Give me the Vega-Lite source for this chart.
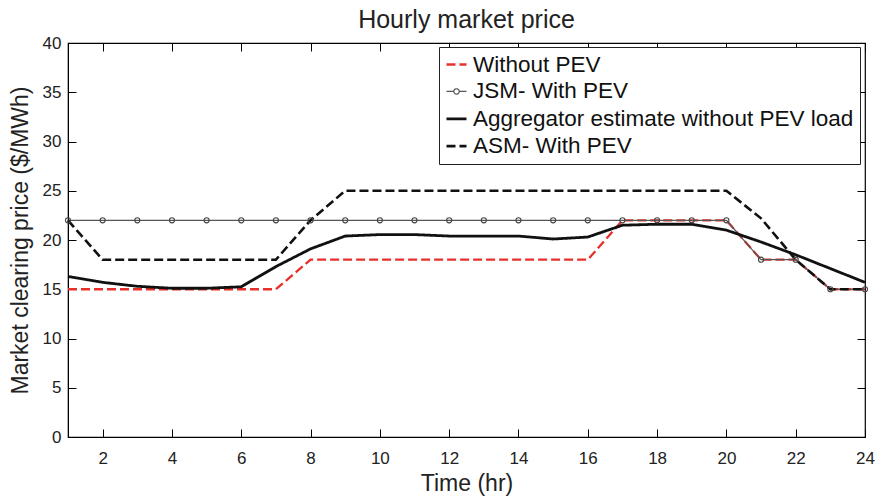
{
  "$schema": "https://vega.github.io/schema/vega-lite/v6.json",
  "width": 797,
  "height": 394,
  "autosize": {"type": "none"},
  "padding": {"left": 68, "top": 43, "right": 13, "bottom": 63},
  "background": "white",
  "config": {
    "font": "Liberation Sans",
    "view": {"stroke": "black", "strokeWidth": 1.2},
    "axis": {"grid": false, "domainColor": "black", "tickColor": "black", "labelColor": "#222", "titleColor": "#222", "labelFont": "Liberation Sans", "titleFont": "Liberation Sans"}
  },
  "title": {"text": "Hourly market price", "fontSize": 25, "fontWeight": "normal", "color": "#222", "offset": 1, "anchor": "middle", "font": "Liberation Sans"},
  "data": {"values": [
    {"hour": 1, "series": "Without PEV", "price": 15},
    {"hour": 2, "series": "Without PEV", "price": 15},
    {"hour": 3, "series": "Without PEV", "price": 15},
    {"hour": 4, "series": "Without PEV", "price": 15},
    {"hour": 5, "series": "Without PEV", "price": 15},
    {"hour": 6, "series": "Without PEV", "price": 15},
    {"hour": 7, "series": "Without PEV", "price": 15},
    {"hour": 8, "series": "Without PEV", "price": 18},
    {"hour": 9, "series": "Without PEV", "price": 18},
    {"hour": 10, "series": "Without PEV", "price": 18},
    {"hour": 11, "series": "Without PEV", "price": 18},
    {"hour": 12, "series": "Without PEV", "price": 18},
    {"hour": 13, "series": "Without PEV", "price": 18},
    {"hour": 14, "series": "Without PEV", "price": 18},
    {"hour": 15, "series": "Without PEV", "price": 18},
    {"hour": 16, "series": "Without PEV", "price": 18},
    {"hour": 17, "series": "Without PEV", "price": 22},
    {"hour": 18, "series": "Without PEV", "price": 22},
    {"hour": 19, "series": "Without PEV", "price": 22},
    {"hour": 20, "series": "Without PEV", "price": 22},
    {"hour": 21, "series": "Without PEV", "price": 18},
    {"hour": 22, "series": "Without PEV", "price": 18},
    {"hour": 23, "series": "Without PEV", "price": 15},
    {"hour": 24, "series": "Without PEV", "price": 15},
    {"hour": 1, "series": "JSM- With PEV", "price": 22},
    {"hour": 2, "series": "JSM- With PEV", "price": 22},
    {"hour": 3, "series": "JSM- With PEV", "price": 22},
    {"hour": 4, "series": "JSM- With PEV", "price": 22},
    {"hour": 5, "series": "JSM- With PEV", "price": 22},
    {"hour": 6, "series": "JSM- With PEV", "price": 22},
    {"hour": 7, "series": "JSM- With PEV", "price": 22},
    {"hour": 8, "series": "JSM- With PEV", "price": 22},
    {"hour": 9, "series": "JSM- With PEV", "price": 22},
    {"hour": 10, "series": "JSM- With PEV", "price": 22},
    {"hour": 11, "series": "JSM- With PEV", "price": 22},
    {"hour": 12, "series": "JSM- With PEV", "price": 22},
    {"hour": 13, "series": "JSM- With PEV", "price": 22},
    {"hour": 14, "series": "JSM- With PEV", "price": 22},
    {"hour": 15, "series": "JSM- With PEV", "price": 22},
    {"hour": 16, "series": "JSM- With PEV", "price": 22},
    {"hour": 17, "series": "JSM- With PEV", "price": 22},
    {"hour": 18, "series": "JSM- With PEV", "price": 22},
    {"hour": 19, "series": "JSM- With PEV", "price": 22},
    {"hour": 20, "series": "JSM- With PEV", "price": 22},
    {"hour": 21, "series": "JSM- With PEV", "price": 18},
    {"hour": 22, "series": "JSM- With PEV", "price": 18},
    {"hour": 23, "series": "JSM- With PEV", "price": 15},
    {"hour": 24, "series": "JSM- With PEV", "price": 15},
    {"hour": 1, "series": "Aggregator estimate without PEV load", "price": 16.3},
    {"hour": 2, "series": "Aggregator estimate without PEV load", "price": 15.7},
    {"hour": 3, "series": "Aggregator estimate without PEV load", "price": 15.3},
    {"hour": 4, "series": "Aggregator estimate without PEV load", "price": 15.1},
    {"hour": 5, "series": "Aggregator estimate without PEV load", "price": 15.1},
    {"hour": 6, "series": "Aggregator estimate without PEV load", "price": 15.25},
    {"hour": 7, "series": "Aggregator estimate without PEV load", "price": 17.3},
    {"hour": 8, "series": "Aggregator estimate without PEV load", "price": 19.1},
    {"hour": 9, "series": "Aggregator estimate without PEV load", "price": 20.4},
    {"hour": 10, "series": "Aggregator estimate without PEV load", "price": 20.55},
    {"hour": 11, "series": "Aggregator estimate without PEV load", "price": 20.55},
    {"hour": 12, "series": "Aggregator estimate without PEV load", "price": 20.4},
    {"hour": 13, "series": "Aggregator estimate without PEV load", "price": 20.4},
    {"hour": 14, "series": "Aggregator estimate without PEV load", "price": 20.4},
    {"hour": 15, "series": "Aggregator estimate without PEV load", "price": 20.1},
    {"hour": 16, "series": "Aggregator estimate without PEV load", "price": 20.3},
    {"hour": 17, "series": "Aggregator estimate without PEV load", "price": 21.5},
    {"hour": 18, "series": "Aggregator estimate without PEV load", "price": 21.6},
    {"hour": 19, "series": "Aggregator estimate without PEV load", "price": 21.6},
    {"hour": 20, "series": "Aggregator estimate without PEV load", "price": 21.0},
    {"hour": 21, "series": "Aggregator estimate without PEV load", "price": 19.8},
    {"hour": 22, "series": "Aggregator estimate without PEV load", "price": 18.5},
    {"hour": 23, "series": "Aggregator estimate without PEV load", "price": 17.1},
    {"hour": 24, "series": "Aggregator estimate without PEV load", "price": 15.7},
    {"hour": 1, "series": "ASM- With PEV", "price": 22},
    {"hour": 2, "series": "ASM- With PEV", "price": 18},
    {"hour": 3, "series": "ASM- With PEV", "price": 18},
    {"hour": 4, "series": "ASM- With PEV", "price": 18},
    {"hour": 5, "series": "ASM- With PEV", "price": 18},
    {"hour": 6, "series": "ASM- With PEV", "price": 18},
    {"hour": 7, "series": "ASM- With PEV", "price": 18},
    {"hour": 8, "series": "ASM- With PEV", "price": 22},
    {"hour": 9, "series": "ASM- With PEV", "price": 25},
    {"hour": 10, "series": "ASM- With PEV", "price": 25},
    {"hour": 11, "series": "ASM- With PEV", "price": 25},
    {"hour": 12, "series": "ASM- With PEV", "price": 25},
    {"hour": 13, "series": "ASM- With PEV", "price": 25},
    {"hour": 14, "series": "ASM- With PEV", "price": 25},
    {"hour": 15, "series": "ASM- With PEV", "price": 25},
    {"hour": 16, "series": "ASM- With PEV", "price": 25},
    {"hour": 17, "series": "ASM- With PEV", "price": 25},
    {"hour": 18, "series": "ASM- With PEV", "price": 25},
    {"hour": 19, "series": "ASM- With PEV", "price": 25},
    {"hour": 20, "series": "ASM- With PEV", "price": 25},
    {"hour": 21, "series": "ASM- With PEV", "price": 22.2},
    {"hour": 22, "series": "ASM- With PEV", "price": 18},
    {"hour": 23, "series": "ASM- With PEV", "price": 15},
    {"hour": 24, "series": "ASM- With PEV", "price": 15}
  ]},
  "resolve": {"axis": {"x": "independent", "y": "independent"}},
  "layer": [
    {
      "mark": {"type": "line", "strokeCap": "butt"},
      "encoding": {
        "x": {"field": "hour", "type": "quantitative", "scale": {"domain": [1, 24], "nice": false, "zero": false},
          "axis": {"orient": "bottom", "values": [2, 4, 6, 8, 10, 12, 14, 16, 18, 20, 22, 24], "tickSize": -8, "labelPadding": 21, "labelFontSize": 17, "title": "Time (hr)", "titleFontSize": 23, "titleFontWeight": "normal", "titlePadding": 6, "labelFlush": false}},
        "y": {"field": "price", "type": "quantitative", "scale": {"domain": [0, 40], "nice": false},
          "axis": {"orient": "left", "values": [0, 5, 10, 15, 20, 25, 30, 35, 40], "tickSize": -8, "labelPadding": 15, "labelFontSize": 17, "title": "Market clearing price ($/MWh)", "titleFontSize": 23, "titleFontWeight": "normal", "titlePadding": 10}},
        "color": {"field": "series", "type": "nominal",
          "scale": {"domain": ["Without PEV", "JSM- With PEV", "Aggregator estimate without PEV load", "ASM- With PEV"], "range": ["#e8302a", "#555555", "#111111", "#111111"]},
          "legend": {"title": null, "orient": "none", "legendX": 371, "legendY": 4, "strokeColor": "#222", "fillColor": "white", "padding": 6, "labelFontSize": 22.5, "labelLimit": 800, "labelColor": "#111", "labelFont": "Liberation Sans", "symbolType": "stroke", "symbolSize": 400, "symbolStrokeWidth": 2.5, "labelOffset": 5, "rowPadding": 4.2,
            "encode": {"symbols": {"update": {
              "shape": {"signal": "datum.value === 'JSM- With PEV' ? 'M-1,0H-0.27M0.27,0H1M0.27,0A0.27,0.27,0,1,1,-0.27,0A0.27,0.27,0,1,1,0.27,0' : 'stroke'"},
              "strokeWidth": {"signal": "datum.value === 'JSM- With PEV' ? 1.2 : 2.5"},
              "strokeDash": {"signal": "(datum.value === 'Without PEV' || datum.value === 'ASM- With PEV') ? [7, 5] : [1, 0]"},
              "fill": {"value": "transparent"}
            }}}}
        },
        "strokeDash": {"field": "series", "type": "nominal",
          "scale": {"domain": ["Without PEV", "JSM- With PEV", "Aggregator estimate without PEV load", "ASM- With PEV"], "range": [[9, 4], [1, 0], [1, 0], [9, 4]]}, "legend": null},
        "strokeWidth": {"field": "series", "type": "nominal",
          "scale": {"type": "ordinal", "domain": ["Without PEV", "JSM- With PEV", "Aggregator estimate without PEV load", "ASM- With PEV"], "range": [2.3, 1.2, 2.8, 2.6]}, "legend": null}
      }
    },
    {
      "transform": [{"filter": "datum.series === 'JSM- With PEV'"}],
      "mark": {"type": "point", "shape": "circle", "filled": false, "size": 26, "stroke": "#444", "strokeWidth": 1.1, "opacity": 1},
      "encoding": {
        "x": {"field": "hour", "type": "quantitative",
          "axis": {"orient": "top", "values": [2, 4, 6, 8, 10, 12, 14, 16, 18, 20, 22, 24], "tickSize": -8, "labels": false, "title": null, "domain": false}},
        "y": {"field": "price", "type": "quantitative",
          "axis": {"orient": "right", "values": [0, 5, 10, 15, 20, 25, 30, 35, 40], "tickSize": -8, "labels": false, "title": null, "domain": false}}
      }
    }
  ]
}
